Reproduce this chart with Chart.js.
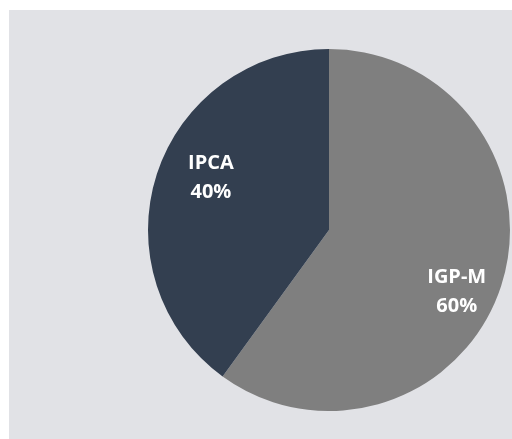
<!DOCTYPE html>
<html>
<head>
<meta charset="utf-8">
<script src="https://cdn.jsdelivr.net/npm/chart.js@4.4.0/dist/chart.umd.min.js"></script>
<style>
  html, body { margin: 0; padding: 0; background: #ffffff; }
  body { width: 512px; height: 439px; position: relative; overflow: hidden; }
  #panel { position: absolute; left: 9px; top: 10px; width: 503px; height: 429px; background: #e1e2e6; }
  #wrap { position: absolute; left: 148px; top: 49px; width: 362px; height: 362px; }
</style>
</head>
<body>
<div id="panel"></div>
<div id="wrap"><canvas id="myChart" width="362" height="362"></canvas></div>
<script>
const labels = ['IGP-M', 'IPCA'];
const values = [60, 40];
const colors = ['#7f7f7f', '#333f50'];
// label placement: nudge (degrees) off the slice middle and radius fraction
const labelNudge = [7.2, 6.5];
const labelRadius = [0.78, 0.717];

const sliceLabels = {
  id: 'sliceLabels',
  afterDatasetsDraw(chart) {
    const ctx = chart.ctx;
    const meta = chart.getDatasetMeta(0);
    const total = values.reduce((a, b) => a + b, 0);
    ctx.save();
    ctx.fillStyle = '#ffffff';
    ctx.font = 'bold 20px "Open Sans"';
    ctx.textAlign = 'center';
    ctx.textBaseline = 'alphabetic';
    meta.data.forEach((arc, i) => {
      const p = arc.getProps(['x', 'y', 'startAngle', 'endAngle', 'outerRadius'], true);
      const mid = (p.startAngle + p.endAngle) / 2 + labelNudge[i] * Math.PI / 180;
      const r = p.outerRadius * labelRadius[i];
      const x = p.x + Math.cos(mid) * r;
      const y = p.y + Math.sin(mid) * r;
      const pct = Math.round(values[i] / total * 100) + '%';
      ctx.fillText(labels[i], x, y - 14.5 + 7.2);
      ctx.fillText(pct, x, y + 14.5 + 7.2);
    });
    ctx.restore();
  }
};

const data = {
  labels: labels,
  datasets: [{
    data: values,
    backgroundColor: colors,
    borderWidth: 0,
    hoverOffset: 0,
    offset: 0
  }]
};

const config = {
  type: 'pie',
  data: data,
  options: {
    responsive: false,
    animation: false,
    events: [],
    layout: { padding: 0 },
    plugins: {
      legend: { display: false },
      tooltip: { enabled: false }
    }
  },
  plugins: [sliceLabels]
};

const myChart = new Chart(document.getElementById('myChart'), config);
</script>
</body>
</html>
